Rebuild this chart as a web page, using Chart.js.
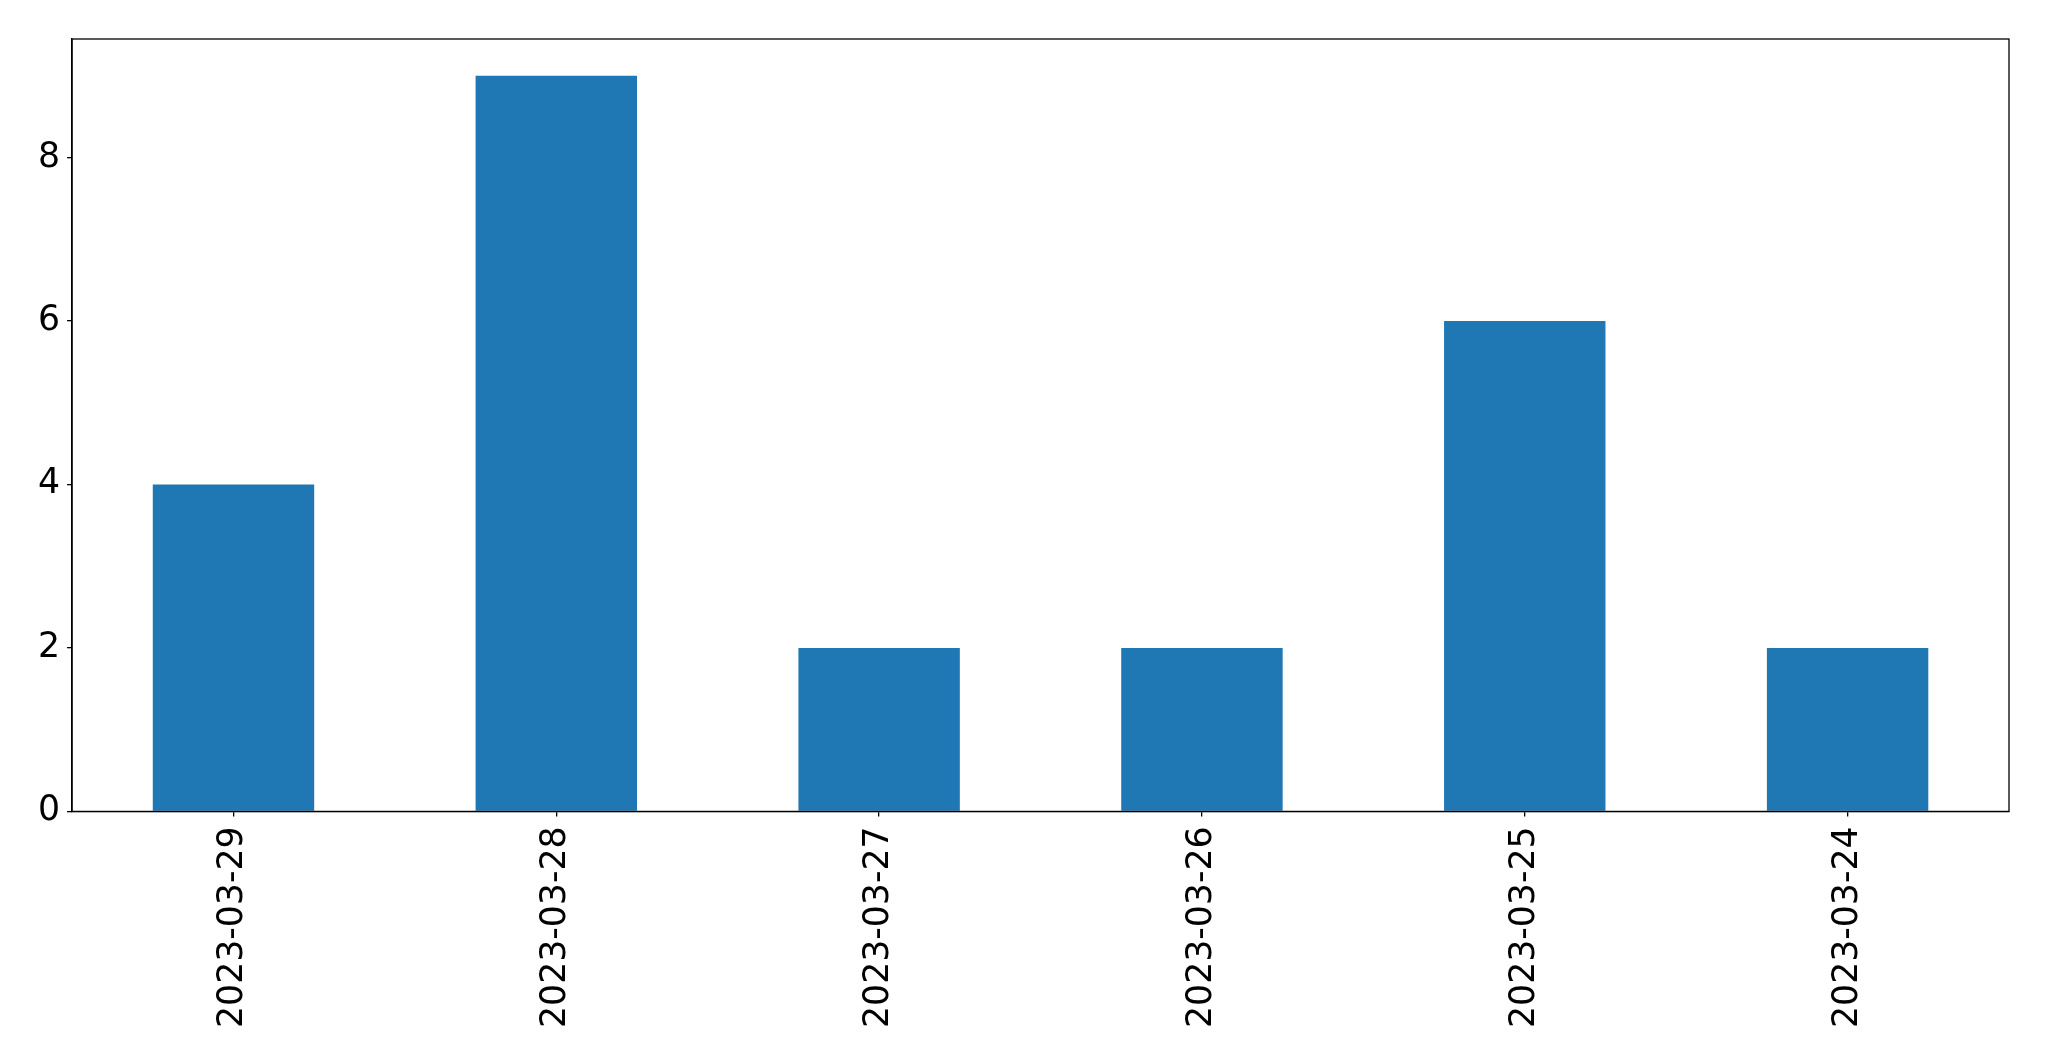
<!DOCTYPE html>
<html>
<head>
<meta charset="utf-8">
<script src="https://cdn.jsdelivr.net/npm/chart.js@4"></script>
<style>
  html, body { margin: 0; padding: 0; background: #ffffff; }
  canvas { display: block; }
</style>
</head>
<body>
<canvas id="graficaFechas" width="2049" height="1061"></canvas>
<script>
// Datos de la grafica
const fechas = ["2023-03-29", "2023-03-28", "2023-03-27", "2023-03-26", "2023-03-25", "2023-03-24"];
const valores = [4, 9, 2, 2, 6, 2];
const ticksY = [0, 2, 4, 6, 8];

// Dibuja el marco completo alrededor del area del grafico
const marcoPlugin = {
  id: "marco",
  afterDraw(chart) {
    const { ctx, chartArea } = chart;
    ctx.save();
    ctx.strokeStyle = "#000000";
    ctx.lineWidth = 1.3;
    ctx.strokeRect(chartArea.left, chartArea.top, chartArea.right - chartArea.left, chartArea.bottom - chartArea.top);
    ctx.restore();
  },
};

document.addEventListener("DOMContentLoaded", () => {
  graficaFechas();
});

function graficaFechas() {
  const ctx = document.getElementById("graficaFechas");
  const fuente = { family: "'DejaVu Sans', sans-serif", size: 34.7 };
  new Chart(ctx, {
    type: "bar",
    data: {
      labels: fechas,
      datasets: [
        {
          data: valores,
          backgroundColor: "#1f77b4",
          borderWidth: 0,
          barPercentage: 0.5,
          categoryPercentage: 1.0,
        },
      ],
    },
    options: {
      responsive: false,
      animation: false,
      devicePixelRatio: 1,
      layout: { padding: { top: 39, right: 40, bottom: 23, left: 31 } },
      plugins: {
        legend: { display: false },
        tooltip: { enabled: false },
      },
      scales: {
        x: {
          offset: true,
          grid: { offset: false, drawOnChartArea: false, drawTicks: true, tickLength: 5, color: "#000000", lineWidth: 1.3 },
          border: { display: true, color: "#000000", width: 1.3 },
          ticks: { color: "#000000", font: fuente, minRotation: 90, maxRotation: 90, padding: 10 },
        },
        y: {
          min: 0,
          max: 9.45,
          afterBuildTicks: (axis) => {
            axis.ticks = ticksY.map((v) => ({ value: v }));
          },
          grid: { drawOnChartArea: false, drawTicks: true, tickLength: 5, color: "#000000", lineWidth: 1.3 },
          border: { display: true, color: "#000000", width: 1.3 },
          ticks: { color: "#000000", font: fuente, padding: 7 },
        },
      },
    },
    plugins: [marcoPlugin],
  });
}
</script>
</body>
</html>
